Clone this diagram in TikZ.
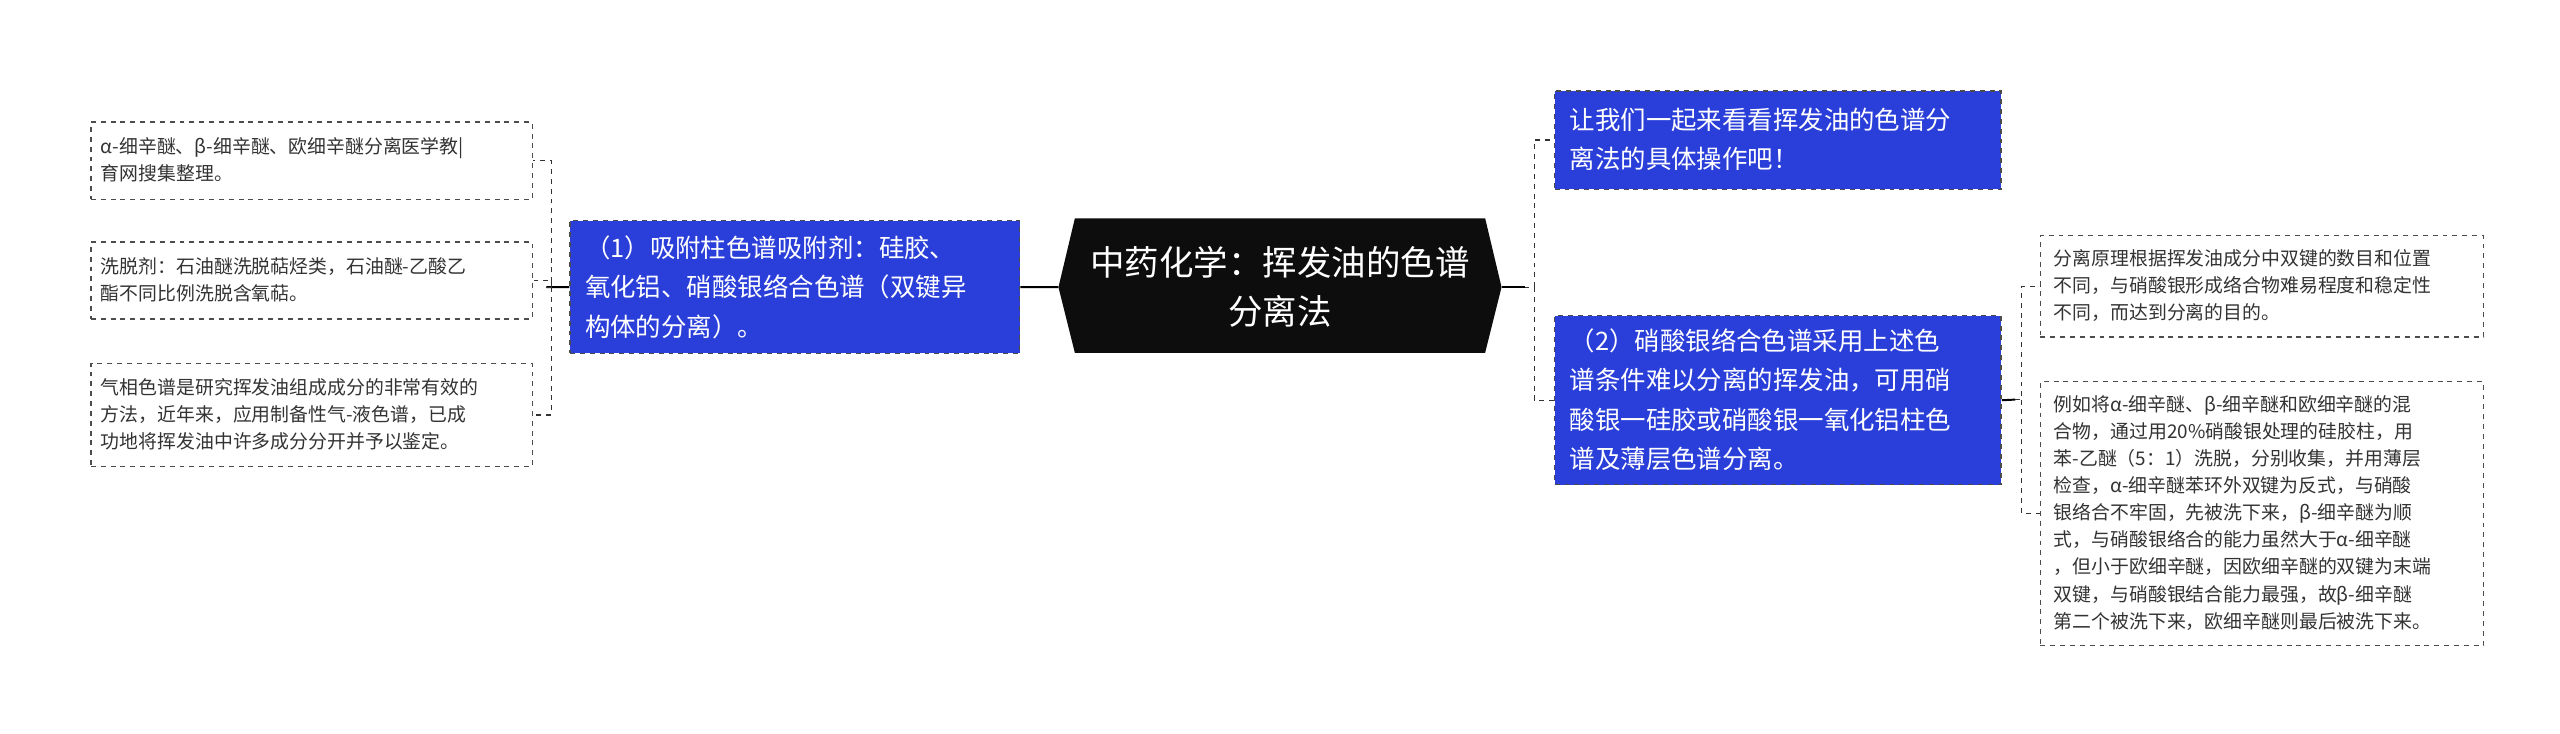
\documentclass[tikz,border=0pt]{standalone}
\usepackage{fontspec}
\setmainfont{Noto Sans CJK SC}
\begin{document}
\begin{tikzpicture}[x=1pt,y=-1pt,
  leaf/.style={draw=black!70,dashed,line width=0.8pt,fill=white,anchor=north west,inner sep=0pt,font=\fontsize{11.5}{16.5}\selectfont,text=black!80,align=left},
  bluebox/.style={draw=black!70,dashed,line width=0.8pt,fill=blue!75!cyan!60!black,anchor=north west,inner sep=0pt,text=white,align=left,font=\fontsize{15.5}{24}\selectfont},
  conn/.style={black!80,dashed,line width=0.8pt},
  sconn/.style={black,line width=1.2pt}]
\useasboundingbox (0,0) rectangle (1560,447);
\definecolor{bb}{HTML}{2A3FD9}
\tikzset{bluebox/.append style={fill=bb}}
% center
\fill[black!95] (645,175) -- (655,133) -- (905,133) -- (915,175) -- (905,215) -- (655,215) -- cycle;
\node[text=white,align=center,font=\fontsize{21}{30}\selectfont] (c) at (780,175) {中药化学：挥发油的色谱\\分离法};
\coordinate (cl) at (645,175); \coordinate (cr) at (915,175);
% left main
\node[bluebox,minimum width=274,minimum height=81] (lm) at (347,134) {};
\node[anchor=west,text=white,align=left,font=\fontsize{15.5}{24}\selectfont] at (353,175) {（1）吸附柱色谱吸附剂：硅胶、\\氧化铝、硝酸银络合色谱（双键异\\构体的分离）。};
% right main
\node[bluebox,minimum width=272,minimum height=60] (rt) at (947,55) {};
\node[anchor=west,text=white,align=left,font=\fontsize{15.5}{24}\selectfont] at (953,85) {让我们一起来看看挥发油的色谱分\\离法的具体操作吧！};
\node[bluebox,minimum width=272,minimum height=103] (rb) at (947,192) {};
\node[anchor=west,text=white,align=left,font=\fontsize{15.5}{24}\selectfont] at (953,243.5) {（2）硝酸银络合色谱采用上述色\\谱条件难以分离的挥发油，可用硝\\酸银一硅胶或硝酸银一氧化铝柱色\\谱及薄层色谱分离。};
% left leaves
\node[leaf,minimum width=269,minimum height=47] (l1) at (55,74) {};
\node[anchor=west,font=\fontsize{11.5}{16.5}\selectfont,text=black!80,align=left] at (58,97.5) {α-细辛醚、β-细辛醚、欧细辛醚分离医学教|\\育网搜集整理。};
\node[leaf,minimum width=269,minimum height=47] (l2) at (55,147) {};
\node[anchor=west,font=\fontsize{11.5}{16.5}\selectfont,text=black!80,align=left] at (58,170.5) {洗脱剂：石油醚洗脱萜烃类，石油醚-乙酸乙\\酯不同比例洗脱含氧萜。};
\node[leaf,minimum width=269,minimum height=63] (l3) at (55,221) {};
\node[anchor=west,font=\fontsize{11.5}{16.5}\selectfont,text=black!80,align=left] at (58,252.5) {气相色谱是研究挥发油组成成分的非常有效的\\方法，近年来，应用制备性气-液色谱，已成\\功地将挥发油中许多成分分开并予以鉴定。};
% right leaves
\node[leaf,minimum width=270,minimum height=62] (r1) at (1243,143) {};
\node[anchor=west,font=\fontsize{11.5}{16.5}\selectfont,text=black!80,align=left] at (1248,174) {分离原理根据挥发油成分中双键的数目和位置\\不同，与硝酸银形成络合物难易程度和稳定性\\不同，而达到分离的目的。};
\node[leaf,minimum width=270,minimum height=161] (r2) at (1243,232) {};
\node[anchor=west,font=\fontsize{11.5}{16.5}\selectfont,text=black!80,align=left] at (1248,312.5) {例如将α-细辛醚、β-细辛醚和欧细辛醚的混\\合物，通过用20\%硝酸银处理的硅胶柱，用\\苯-乙醚（5：1）洗脱，分别收集，并用薄层\\检查，α-细辛醚苯环外双键为反式，与硝酸\\银络合不牢固，先被洗下来，β-细辛醚为顺\\式，与硝酸银络合的能力虽然大于α-细辛醚\\，但小于欧细辛醚，因欧细辛醚的双键为末端\\双键，与硝酸银结合能力最强，故β-细辛醚\\第二个被洗下来，欧细辛醚则最后被洗下来。};
% connectors
\draw[sconn] (cl) -- (lm.east);
\draw[sconn] (cr) -- (929,175);
\draw[conn] (929,175) -- (935,175) |- (rt.west);
\draw[conn] (935,175) |- (rb.west);
\draw[sconn] (lm.west) -- (333,175);
\draw[conn] (333,175) -- (336,175) |- (l1.east);
\draw[conn] (336,175) |- (l2.east);
\draw[conn] (336,175) |- (l3.east);
\draw[sconn] (rb.east) -- (1228,243.5);
\draw[conn] (1228,243.5) -- (1232,243.5) |- (r1.west);
\draw[conn] (1232,243.5) |- (r2.west);
\end{tikzpicture}
\end{document}
